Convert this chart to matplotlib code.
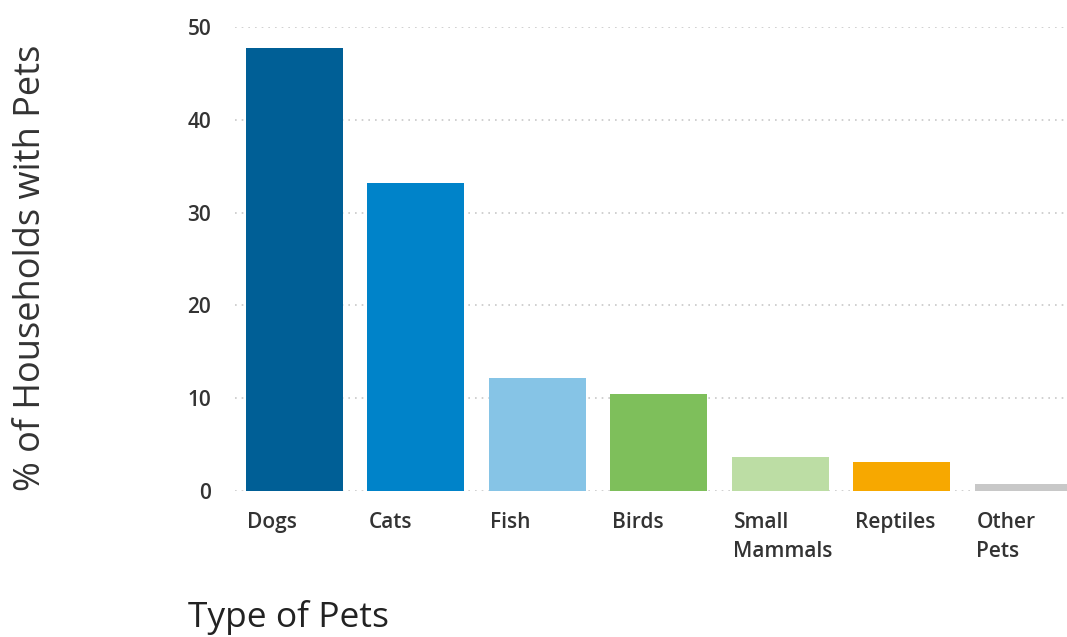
import numpy as np
import matplotlib
matplotlib.use("Agg")
import matplotlib.pyplot as plt

# data
pets = ["Dogs", "Cats", "Fish", "Birds", "Small\nMammals", "Reptiles", "Other\nPets"]
share = [47.7, 33.2, 12.2, 10.5, 3.7, 3.1, 0.8]
colors = ["#005f96", "#0083c9", "#86c4e6", "#7ebf5b", "#bcdda4", "#f7a800", "#c8c8c8"]
yticks = [0, 10, 20, 30, 40, 50]

plt.rcParams["font.family"] = ["Open Sans", "DejaVu Sans"]

fig = plt.figure(figsize=(10.67, 6.37), dpi=100)
ax = fig.add_axes([0.22, 0.229, 0.78, 0.729])

x = np.arange(len(pets))
ax.bar(x, share, width=0.8, color=colors, zorder=2)

ax.set_xlim(-0.49, 6.36)
ax.set_ylim(0, 50)
ax.set_yticks(yticks)
ax.set_yticklabels([str(t) for t in yticks], fontsize=15, color="#333333",
                   fontweight="semibold")
ax.set_xticks(x - 0.385)
ax.set_xticklabels(pets, fontsize=15, color="#333333", ha="left",
                   fontweight="semibold", linespacing=1.5)
ax.tick_params(axis="x", length=0, pad=15)
ax.tick_params(axis="y", length=0, pad=17)

ax.grid(axis="y", color="#c8c8c8", linestyle=(0, (1, 3)), linewidth=1.2, zorder=0)
for s in ax.spines.values():
    s.set_visible(False)

fig.text(0.029, 0.579, "% of Households with Pets", rotation=90, ha="center",
         va="center", fontsize=26, color="#333333")
fig.text(0.176, 0.016, "Type of Pets", ha="left", va="baseline", fontsize=25.5,
         color="#222222")

fig.savefig("out.png", dpi=100)
